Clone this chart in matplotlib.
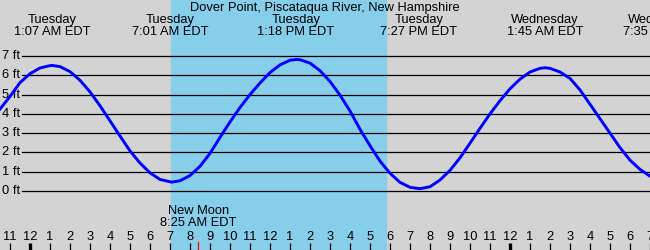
import numpy as np
import matplotlib
matplotlib.use('Agg')
from matplotlib import pyplot as plt

# tide chart, Dover Point - hours since Tuesday midnight (EDT)
title = 'Dover Point, Piscataqua River, New Hampshire'

tide_days = ['Tuesday', 'Tuesday', 'Tuesday', 'Tuesday', 'Wednesday', 'Wednesday']
tide_labels = ['1:07 AM EDT', '7:01 AM EDT', '1:18 PM EDT', '7:27 PM EDT', '1:45 AM EDT', '7:35 AM EDT']
tide_times = [1.12, 7.02, 13.30, 19.45, 25.75, 31.58]

# water level (ft), every half hour + the turning points
curve_t = [-1.5, -1.0, -0.5, 0.0, 0.5, 1.0, 1.12, 1.5, 2.0, 2.5, 3.0, 3.5, 4.0, 4.5, 5.0, 5.5, 6.0, 6.5,
           7.08, 7.5, 8.0, 8.5, 9.0, 9.5, 10.0, 10.5, 11.0, 11.5, 12.0, 12.5, 13.0, 13.33,
           13.5, 14.0, 14.5, 15.0, 15.5, 16.0, 16.5, 17.0, 17.5, 18.0, 18.5, 19.0, 19.5,
           20.0, 20.5, 21.0, 21.5, 22.0, 22.5, 23.0, 23.5, 24.0, 24.5, 25.0, 25.5, 25.75,
           26.0, 26.5, 27.0, 27.5, 28.0, 28.5, 29.0, 29.5, 30.0, 30.5, 31.0]
curve_h = [4.25, 4.9, 5.62, 6.08, 6.38, 6.50, 6.51, 6.45, 6.19, 5.74, 5.14, 4.42, 3.64, 2.85, 2.08, 1.45, 0.94, 0.60,
           0.46, 0.53, 0.80, 1.28, 1.95, 2.78, 3.58, 4.33, 5.0, 5.6, 6.14, 6.54, 6.78, 6.82,
           6.81, 6.63, 6.24, 5.68, 4.97, 4.15, 3.2, 2.35, 1.55, 0.92, 0.45, 0.19, 0.12,
           0.22, 0.57, 1.07, 1.72, 2.48, 3.25, 4.0, 4.68, 5.3, 5.8, 6.17, 6.36, 6.39,
           6.36, 6.17, 5.84, 5.24, 4.5, 3.75, 3.0, 2.25, 1.6, 1.12, 0.77]

sunrise = 7.05
sunset = 17.8
moon_time = 8.42
moon_label = ['New Moon', '8:25 AM EDT']

ft_levels = [0, 1, 2, 3, 4, 5, 6, 7]
hour_t = list(range(-1, 32))
hour_lbl = [str((h % 12) or 12) for h in hour_t]

# pixel helpers: 20 px per hour, 12 midnight at x=30 ; 0 ft at y=191, 7 ft at y=56
def px(x):
    return (x - 30) / 20.0
ppf = (191 - 56) / 7.0
def py(y):
    return (191 - y) / ppf

fig = plt.figure(figsize=(6.5, 2.5), dpi=100)
ax = fig.add_axes([0, 0, 1, 1])
ax.set_xlim(px(0), px(650))
ax.set_ylim(py(250), py(0))
ax.axis('off')
ax.add_patch(plt.Rectangle((px(0), py(250)), px(650) - px(0), py(0) - py(250), color='#d3d3d3', zorder=0))
ax.axvspan(sunrise, sunset, color='#87ceeb', zorder=1)

fnt = dict(family=['Liberation Sans', 'DejaVu Sans'], fontsize=9.3, color='black')

for f in ft_levels:
    ax.plot([px(22), px(650)], [f, f], color='black', lw=0.9, zorder=2)
    ax.text(px(2), f, '%d ft' % f, ha='left', va='center', zorder=3, **fnt)

ax.plot(curve_t, curve_h, color='#0000ff', lw=2.1, zorder=4, solid_joinstyle='round')

ax.text(px(325), py(8), title, ha='center', va='center', **fnt)
for t, d, l in zip(tide_times, tide_days, tide_labels):
    ax.text(t, py(20), d, ha='center', va='center', **fnt)
    ax.text(t, py(32), l, ha='center', va='center', **fnt)

for t, l in zip(hour_t, hour_lbl):
    ax.text(t, py(237), l, ha='center', va='center', **fnt)
    major = (t % 24 == 0)
    ax.plot([t, t], [py(243), py(250)], color='black', lw=2.4 if major else 0.9, zorder=3,
            solid_capstyle='butt')

ax.plot([moon_time, moon_time], [py(242), py(250)], color='red', lw=0.9, zorder=3)
ax.text(moon_time, py(211), moon_label[0], ha='center', va='center', **fnt)
ax.text(moon_time, py(223), moon_label[1], ha='center', va='center', **fnt)

fig.savefig('out.png', dpi=100)
